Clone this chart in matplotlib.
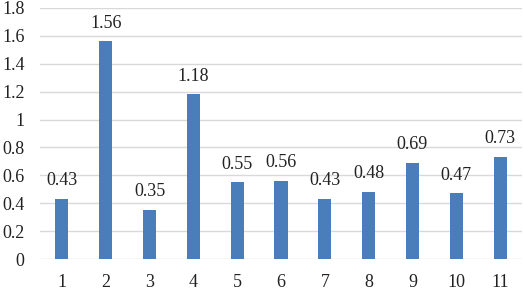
import matplotlib
matplotlib.use("Agg")
import matplotlib.pyplot as plt

categories = ["1", "2", "3", "4", "5", "6", "7", "8", "9", "10", "11"]
values = [0.43, 1.56, 0.35, 1.18, 0.55, 0.56, 0.43, 0.48, 0.69, 0.47, 0.73]
yticks = [0, 0.2, 0.4, 0.6, 0.8, 1, 1.2, 1.4, 1.6, 1.8]
ytick_labels = ["0", "0.2", "0.4", "0.6", "0.8", "1", "1.2", "1.4", "1.6", "1.8"]

plt.rcParams['font.family'] = ['Liberation Serif', 'DejaVu Serif']

fig = plt.figure(figsize=(5.23, 2.97), dpi=100)
ax = fig.add_axes([40/523, 38/297, 482/523, 251/297])

x = list(range(len(categories)))
bars = ax.bar(x, values, width=0.3, color="#4a7ebb", zorder=3)
for xi, v in zip(x, values):
    ax.annotate(f"{v:.2f}", (xi, v), xytext=(0, 7), textcoords="offset points",
                ha="center", va="bottom", fontsize=13, color="#222222")

ax.set_xlim(-0.5, len(categories) - 0.5)
ax.set_ylim(0, 1.8)
ax.set_yticks(yticks)
ax.set_yticklabels(ytick_labels)
ax.set_xticks(x)
ax.set_xticklabels(categories)
ax.grid(axis="y", color="#d9d9d9", linewidth=1, zorder=0)
for s in ax.spines.values():
    s.set_visible(False)
ax.tick_params(axis="both", length=0, labelsize=13, colors="#222222")
ax.tick_params(axis="x", pad=11)
ax.tick_params(axis="y", pad=11)

fig.savefig("out.png", dpi=100)
